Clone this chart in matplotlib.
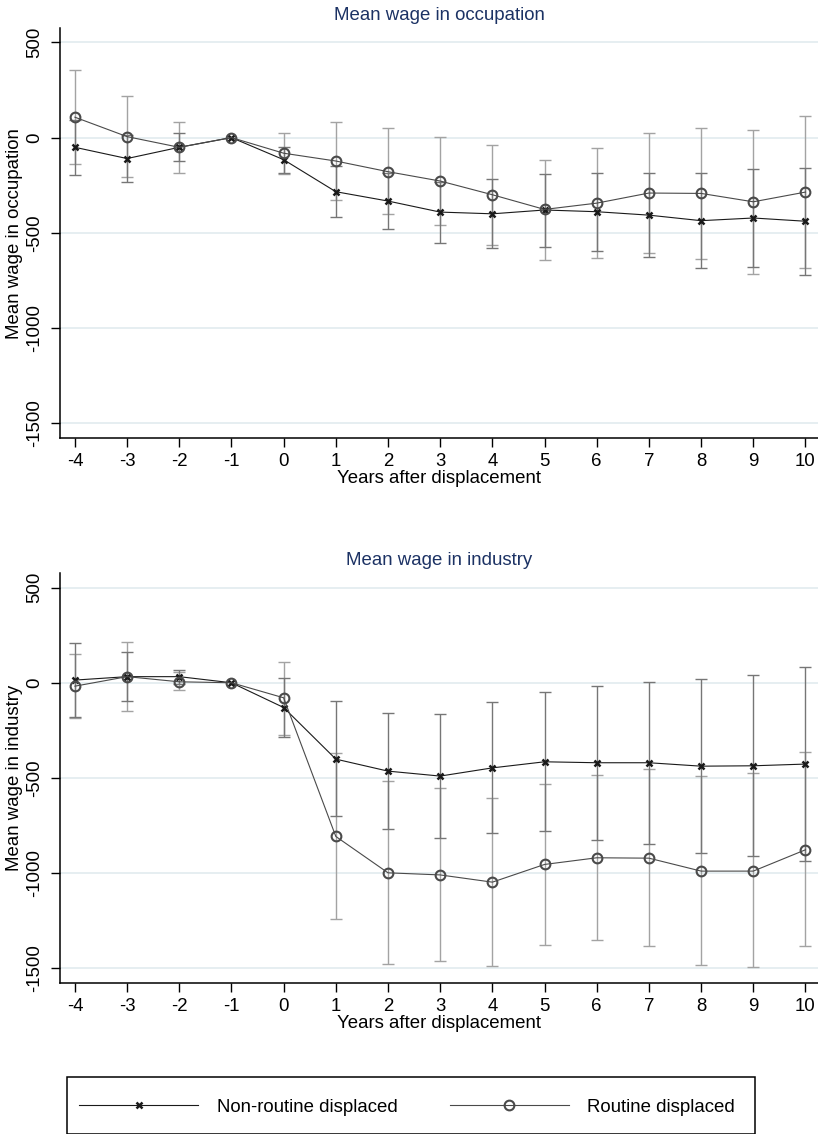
import matplotlib
matplotlib.use("Agg")
import matplotlib.pyplot as plt
from matplotlib.lines import Line2D
from matplotlib.patches import Rectangle

plt.rcParams['font.family'] = ['Liberation Sans', 'DejaVu Sans']
plt.rcParams['axes.unicode_minus'] = False

NAN = float('nan')
years = list(range(-4, 11))

# mean wage in occupation
occ_nonroutine = [-51, -110, -51, 0, -116, -284, -333, -391, -400, -380, -389, -407, -436, -422, -439]
occ_nonroutine_lo = [-196, -232, -125, NAN, -186, -417, -481, -551, -582, -572, -593, -628, -684, -679, -719]
occ_nonroutine_hi = [94, 12, 23, NAN, -47, -149, -185, -231, -217, -189, -184, -184, -186, -165, -158]
occ_routine = [107, 5, -51, 0, -82, -123, -179, -228, -300, -377, -344, -291, -293, -337, -286]
occ_routine_lo = [-140, -205, -186, NAN, -190, -328, -403, -460, -563, -644, -630, -605, -637, -714, -682]
occ_routine_hi = [356, 217, 84, NAN, 26, 84, 49, 5, -37, -118, -56, 23, 51, 40, 111]

# mean wage in industry
ind_nonroutine = [14, 32, 32, 0, -130, -401, -464, -490, -447, -415, -420, -420, -438, -436, -427]
ind_nonroutine_lo = [-182, -98, -4, NAN, -284, -699, -770, -816, -791, -781, -826, -847, -895, -909, -937]
ind_nonroutine_hi = [207, 163, 68, NAN, 26, -96, -158, -163, -102, -49, -16, 5, 21, 39, 84]
ind_routine = [-18, 32, 5, 0, -79, -807, -998, -1009, -1047, -954, -919, -921, -989, -989, -877]
ind_routine_lo = [-186, -149, -40, NAN, -275, -1241, -1476, -1462, -1485, -1376, -1353, -1382, -1483, -1495, -1383]
ind_routine_hi = [151, 212, 58, NAN, 110, -371, -518, -555, -606, -534, -482, -455, -490, -476, -366]

yticks = [-1500, -1000, -500, 0, 500]
labels = ['Non-routine displaced', 'Routine displaced']

FS = 13.4
TITLE_COLOR = '#1c3264'
NR_COLOR = '#1a1a1a'
R_COLOR = '#4a4a4a'


def err(mean, lo, hi):
    return [[m - l for m, l in zip(mean, lo)], [h - m for m, h in zip(mean, hi)]]


def draw_panel(ax, title, ylabel, nr, nr_lo, nr_hi, r, r_lo, r_hi):
    for y in yticks:
        ax.axhline(y, color='#e4edf0', lw=1.3, zorder=0)
    ax.errorbar(years, r, yerr=err(r, r_lo, r_hi), fmt='none', ecolor='#a3a3a3',
                elinewidth=1, capsize=4, capthick=1, zorder=1)
    ax.errorbar(years, nr, yerr=err(nr, nr_lo, nr_hi), fmt='none', ecolor='#767676',
                elinewidth=1, capsize=4, capthick=1, zorder=1)
    ax.plot(years, nr, color=NR_COLOR, lw=0.8, marker='x', ms=4.5, mew=1.8,
            mec=NR_COLOR, zorder=3)
    ax.plot(years, r, color=R_COLOR, lw=0.8, marker='o', ms=7, mew=1.5,
            mfc='none', mec=R_COLOR, zorder=3)

    ax.set_xlim(-4.28, 10.24)
    ax.set_ylim(-1578, 575)
    ax.set_xticks(years)
    ax.set_yticks(yticks)
    ax.set_yticklabels([str(v) for v in yticks], rotation=90, va='center')
    ax.tick_params(direction='out', length=6.7, width=1, labelsize=FS, pad=4)
    ax.tick_params(axis='y', pad=5.5)
    for s in ['top', 'right']:
        ax.spines[s].set_visible(False)
    for s in ['left', 'bottom']:
        ax.spines[s].set_linewidth(1.1)

    ax.set_title(title, fontsize=FS, color=TITLE_COLOR, pad=6)
    ax.set_ylabel(ylabel, fontsize=FS)
    ax.yaxis.set_label_coords(-0.049, 0.5)
    ax.set_xlabel('Years after displacement', fontsize=FS)
    ax.xaxis.set_label_coords(0.5, -0.078)


fig = plt.figure(figsize=(8.18, 11.34), dpi=100)
ax1 = fig.add_axes([0.0737, 0.6135, 0.9263, 0.3618])
ax2 = fig.add_axes([0.0737, 0.1329, 0.9263, 0.3616])

draw_panel(ax1, 'Mean wage in occupation', 'Mean wage in occupation',
           occ_nonroutine, occ_nonroutine_lo, occ_nonroutine_hi,
           occ_routine, occ_routine_lo, occ_routine_hi)
draw_panel(ax2, 'Mean wage in industry', 'Mean wage in industry',
           ind_nonroutine, ind_nonroutine_lo, ind_nonroutine_hi,
           ind_routine, ind_routine_lo, ind_routine_hi)

# legend box
fig.patches.append(Rectangle((67 / 818, 0.0), (755 - 67) / 818, 1 - 1077 / 1134,
                             transform=fig.transFigure, fill=False,
                             ec='black', lw=1.1))
handles = [
    Line2D([], [], color=NR_COLOR, lw=0.8, marker='x', ms=4.5, mew=1.8, mec=NR_COLOR),
    Line2D([], [], color=R_COLOR, lw=0.8, marker='o', ms=7, mew=1.5, mfc='none', mec=R_COLOR),
]
fig.legend(handles, labels, loc='center left', bbox_to_anchor=(79 / 818, 1 - 1107 / 1134),
           ncol=2, frameon=False, fontsize=FS, handlelength=6.4, handletextpad=1.0,
           columnspacing=2.8, borderpad=0, borderaxespad=0, numpoints=1)

fig.savefig('out.png', dpi=100)
